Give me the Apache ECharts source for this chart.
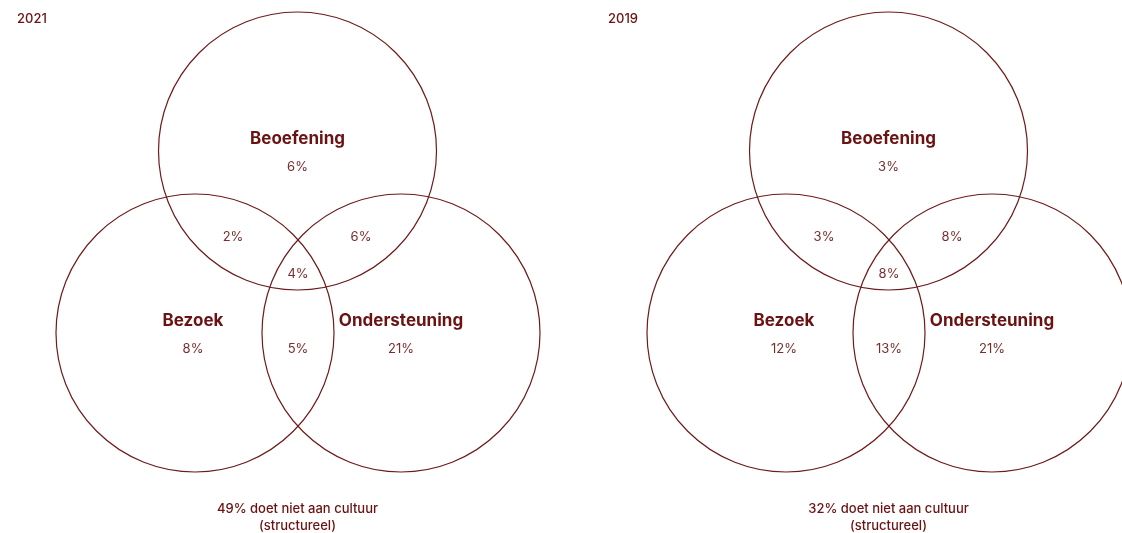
<!DOCTYPE html>
<html>
<head>
<meta charset="utf-8">
<script src="https://cdn.jsdelivr.net/npm/echarts@6/dist/echarts.min.js"></script>
<style>html,body{margin:0;padding:0;background:#fff}#c{width:1122px;height:533px}</style>
</head>
<body>
<div id="c"></div>
<script>
// ---- data ----
const years = ['2021', '2019'];
const setNames = ['Beoefening', 'Bezoek', 'Ondersteuning'];
// only-one-set values: Beoefening, Bezoek, Ondersteuning
const only2021 = [6, 8, 21];
const only2019 = [3, 12, 21];
// pair overlaps: Beoefening∩Bezoek, Beoefening∩Ondersteuning, Bezoek∩Ondersteuning
const pairs2021 = [2, 6, 5];
const pairs2019 = [3, 8, 13];
// all three
const triple = [4, 8];
// not doing culture
const none = [49, 32];
const noneText = 'doet niet aan cultuur';
const noneSub = '(structureel)';

// ---- layout (diagram-local units) ----
const L = {
  panelX: [0, 591],
  r: 139,
  circles: [[297.5, 151], [195, 333], [401, 333]],
  onlyPos: [[297.5, 167], [193, 349], [401, 349]],
  namePos: [[297.5, 138.5], [193, 320.5], [401, 320.5]],
  pairPos: [[233, 237], [361, 237], [298, 349]],
  triplePos: [298, 274],
  nonePos: [297.5, 509.5],
  subPos: [297.5, 526.5],
  yearPos: [17, 19.5]
};
const dark = '#6b1212';
const mid = '#7a2d2d';
const lineCol = '#6e1a1a';
const FONT = 'Inter, "Noto Sans", sans-serif';

const onlyAll = [only2021, only2019];
const pairsAll = [pairs2021, pairs2019];

const circleData = [];
const textData = []; // [x, y, text, kind, align]
years.forEach((yr, d) => {
  const ox = L.panelX[d];
  L.circles.forEach(c => circleData.push([c[0] + ox, c[1], L.r]));
  textData.push([L.yearPos[0] + ox, L.yearPos[1], yr, 'year', 'left']);
  setNames.forEach((n, i) => {
    textData.push([L.namePos[i][0] + ox, L.namePos[i][1], n, 'name', 'center']);
    textData.push([L.onlyPos[i][0] + ox, L.onlyPos[i][1], onlyAll[d][i] + '%', 'val', 'center']);
    textData.push([L.pairPos[i][0] + ox, L.pairPos[i][1], pairsAll[d][i] + '%', 'val', 'center']);
  });
  textData.push([L.triplePos[0] + ox, L.triplePos[1], triple[d] + '%', 'val', 'center']);
  textData.push([L.nonePos[0] + ox, L.nonePos[1], none[d] + '% ' + noneText, 'foot', 'center']);
  textData.push([L.subPos[0] + ox, L.subPos[1], noneSub, 'foot', 'center']);
});

const styles = {
  year: {fontSize: 13, fontWeight: 500, fill: dark},
  name: {fontSize: 17, fontWeight: 'bold', fill: dark},
  val: {fontSize: 13, fontWeight: 'normal', fill: mid},
  foot: {fontSize: 13, fontWeight: 500, fill: dark}
};

const chart = echarts.init(document.getElementById('c'), null, {renderer: 'canvas'});
chart.setOption({
  animation: false,
  backgroundColor: '#ffffff',
  grid: {left: 0, top: 0, width: 1122, height: 533},
  xAxis: {type: 'value', min: 0, max: 1122, show: false},
  yAxis: {type: 'value', min: 0, max: 533, inverse: true, show: false},
  series: [
    {
      type: 'custom',
      clip: false,
      data: circleData,
      renderItem: (params, api) => {
        const p = api.coord([api.value(0), api.value(1)]);
        const r = api.size([api.value(2), 0])[0];
        return {
          type: 'circle',
          shape: {cx: p[0], cy: p[1], r: r},
          style: {fill: 'none', stroke: lineCol, lineWidth: 1.2}
        };
      }
    },
    {
      type: 'custom',
      clip: false,
      data: textData,
      renderItem: (params, api) => {
        const item = textData[params.dataIndex];
        const p = api.coord([item[0], item[1]]);
        const s = styles[item[3]];
        return {
          type: 'text',
          x: p[0], y: p[1],
          style: {
            text: item[2],
            fontFamily: FONT,
            fontSize: s.fontSize,
            fontWeight: s.fontWeight,
            fill: s.fill,
            align: item[4],
            verticalAlign: 'middle'
          }
        };
      }
    }
  ]
});
</script>
</body>
</html>
